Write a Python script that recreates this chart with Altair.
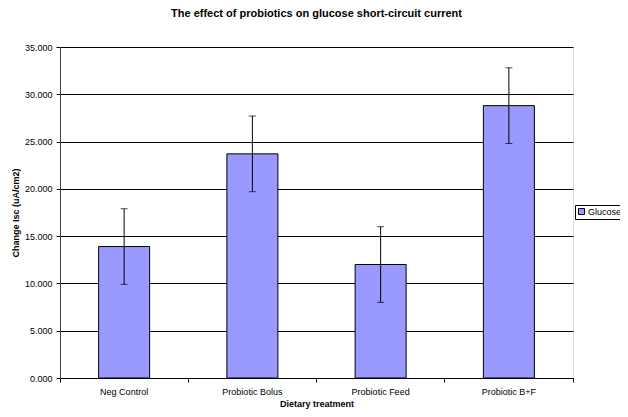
import altair as alt
import pandas as pd

categories = ["Neg Control", "Probiotic Bolus", "Probiotic Feed", "Probiotic B+F"]
means = [13.9, 23.7, 12.0, 28.8]
errors = [4.0, 4.0, 4.0, 4.0]
series_name = "Glucose"
y_ticks = [0, 5, 10, 15, 20, 25, 30, 35]

df = pd.DataFrame({"treatment": categories, "mean": means, "err": errors})
df["lo"] = df["mean"] - df["err"]
df["hi"] = df["mean"] + df["err"]
df["series"] = series_name

FONT = "Liberation Sans"

x_enc = alt.X(
    "treatment:N",
    sort=categories,
    scale=alt.Scale(paddingInner=0, paddingOuter=0),
    axis=alt.Axis(
        title="Dietary treatment",
        labelAngle=0,
        bandPosition=1,
        tickExtra=True,
        tickSize=4,
        labelPadding=5,
        titlePadding=3,
        labelFontSize=9,
        titleFontSize=9,
        titleFontWeight="bold",
        labelFont=FONT,
        titleFont=FONT,
        labelColor="black",
        titleColor="black",
        domainColor="black",
        tickColor="black",
        grid=False,
    ),
)

y_scale = alt.Scale(domain=[0, 35], nice=False)

bars = alt.Chart(df).mark_bar(size=51, stroke="black", strokeWidth=1).encode(
    x=x_enc,
    y=alt.Y(
        "mean:Q",
        scale=y_scale,
        axis=alt.Axis(
            title="Change Isc (uA/cm2)",
            values=y_ticks,
            format=".3f",
            tickSize=4,
            labelPadding=4,
            titlePadding=4,
            labelFontSize=9,
            titleFontSize=9,
            titleFontWeight="bold",
            labelFont=FONT,
            titleFont=FONT,
            labelColor="black",
            titleColor="black",
            domainColor="#404040",
            tickColor="black",
            grid=True,
            gridColor="black",
            gridWidth=1,
            gridOpacity=1,
        ),
    ),
    color=alt.Color(
        "series:N",
        scale=alt.Scale(domain=[series_name], range=["#9999FF"]),
        legend=alt.Legend(
            title=None,
            orient="none",
            legendX=515,
            legendY=158,
            strokeColor="black",
            fillColor="white",
            padding=2,
            symbolType="square",
            symbolSize=36,
            symbolStrokeColor="black",
            symbolStrokeWidth=1,
            symbolOpacity=1,
            labelFontSize=9,
            labelFont=FONT,
            labelColor="black",
            labelOffset=2,
        ),
    ),
)

rules = alt.Chart(df).mark_rule(color="black", strokeWidth=1).encode(
    x=alt.X("treatment:N", sort=categories),
    y=alt.Y("lo:Q", scale=y_scale),
    y2="hi:Q",
)

caps_lo = alt.Chart(df).mark_tick(color="black", size=7, thickness=1).encode(
    x=alt.X("treatment:N", sort=categories),
    y=alt.Y("lo:Q", scale=y_scale),
)
caps_hi = alt.Chart(df).mark_tick(color="black", size=7, thickness=1).encode(
    x=alt.X("treatment:N", sort=categories),
    y=alt.Y("hi:Q", scale=y_scale),
)

chart = (
    alt.layer(bars, rules, caps_lo, caps_hi)
    .properties(
        width=513,
        height=331,
        autosize="none",
        padding={"left": 52, "top": 39, "right": 47, "bottom": 31},
        title=alt.Title(
            "The effect of probiotics on glucose short-circuit current",
            fontSize=11,
            font=FONT,
            fontWeight="bold",
            color="black",
            anchor="middle",
            frame="group",
            baseline="bottom",
            offset=13,
        ),
    )
    .configure_view(fill="#C0C0C0", stroke="#808080", strokeWidth=1.5)
    .configure(background="white")
)

chart.save("out.html", embed_options={"renderer": "svg", "actions": False})
